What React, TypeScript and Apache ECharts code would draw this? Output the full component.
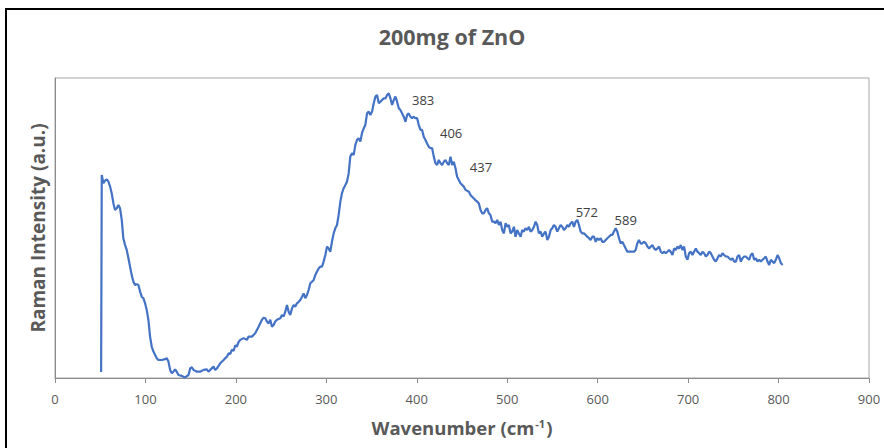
import React, { useEffect, useRef } from "react";
import * as echarts from "echarts";

const wavenumber: number[] = [
  51, 51.7, 53.5, 55.3, 57.2, 59.0, 60.9, 62.7, 64.6, 66.4, 68.3, 70.1, 71.9, 73.8, 75.6, 77.5, 79.3, 81.2, 83.0, 84.8,
  86.7, 88.5, 90.4, 92.2, 94.1, 95.9, 97.7, 99.6, 101.4, 103.3, 105.1, 107.0, 108.8, 110.7, 112.5, 114.3, 118.0, 121.7, 123.6, 125.4,
  127.3, 129.1, 130.9, 132.8, 134.6, 136.5, 140.2, 143.9, 147.6, 149.4, 151.3, 153.1, 156.8, 160.5, 164.2, 167.9, 169.7, 171.6, 175.3, 177.1,
  179.0, 182.7, 186.4, 188.2, 190.1, 191.9, 193.8, 195.6, 197.5, 199.3, 201.1, 203.0, 204.8,
  208.5, 212.2, 214.0, 217.7, 221.4, 225.1, 228.8, 230.6, 232.5, 234.3, 236.2, 238.0, 239.9, 241.7, 243.5, 245.4, 249.1, 250.9, 252.8, 254.6,
  256.5, 258.3, 260.1, 262.0, 263.8, 265.7, 267.5, 269.4, 271.2, 273.1, 274.9, 276.7, 278.6, 280.4, 282.3, 284.1, 286.0, 287.8, 289.6, 291.5,
  293.3, 295.2, 297.0, 298.9, 300.7, 302.6, 304.4, 306.2, 308.1, 309.9, 311.8, 313.6, 315.5, 317.3, 319.1, 321.0, 322.8, 324.7, 326.5, 328.4,
  330.2, 332.1, 333.9, 335.7, 337.6, 339.4, 341.3, 343.1, 345.0, 346.8, 348.7,
  350.6, 352.4, 354.3, 356.1, 358.0, 359.8, 361.6, 363.5, 365.3, 367.2, 369.0, 370.9, 372.7, 374.6, 376.4, 378.2, 380.1, 381.9, 383.8, 385.6,
  387.5, 389.3, 391.1, 393.0, 394.8, 396.7, 398.5, 400.4, 402.2, 404.1, 405.9, 407.7, 409.6, 411.4, 413.3, 415.1, 417.0, 418.8, 420.7, 422.5,
  424.3, 426.2, 428.0, 429.9, 431.7, 433.6, 435.4, 437.3, 439.1, 440.9, 442.8, 444.6, 446.5, 448.3, 452.0, 453.9, 457.6, 459.4, 461.2, 464.9,
  466.8, 468.6, 470.5, 472.3, 474.2, 476.0, 477.8, 479.7, 481.5, 483.4, 485.2, 487.1, 488.9, 490.8, 492.6,
  494.5, 496.3, 498.2, 500.0, 501.8, 503.7, 505.5, 507.4, 509.2, 511.1, 512.9, 514.8, 516.6, 518.4, 520.3, 522.1, 524.0, 525.8, 527.7, 529.5,
  531.4, 533.2, 535.0, 536.9, 538.7, 540.6, 542.4, 544.3, 546.1, 548.0, 549.8, 551.6, 553.5, 555.3, 557.2, 559.0, 560.9, 562.7, 564.6, 566.4,
  568.2, 570.1, 571.9, 573.8, 575.6, 577.5, 579.3, 581.2, 583.0, 584.8, 586.7, 588.5, 590.4, 592.2, 594.1, 595.9, 597.8, 599.6, 601.4, 603.3,
  605.1, 607.0, 608.8, 610.7, 612.5, 614.4, 616.2, 618.0, 619.9, 621.7, 623.6, 625.4, 627.3, 629.1, 631.0, 632.8, 636.5, 640.2, 642.0, 643.9, 645.7,
  647.6, 649.5, 651.3, 653.2, 655.0, 656.9, 658.7, 660.5, 662.4, 664.2, 666.1, 667.9, 669.8, 671.6, 673.4, 675.3, 677.1, 679.0, 680.8, 682.7,
  684.5, 686.4, 688.2, 690.0, 691.9, 693.7, 695.6, 697.4, 699.3, 701.1, 703.0, 704.8, 706.6, 708.5, 710.3, 712.2, 714.0, 715.9, 717.7, 719.6,
  721.4, 723.2, 725.1, 726.9, 728.8, 730.6, 732.5, 734.3, 736.2, 738.0, 739.8, 741.7, 743.5, 745.4, 747.2, 749.1, 750.9, 752.8, 754.6, 756.4,
  758.3, 760.1, 762.0, 763.8, 765.7, 767.5, 769.3, 771.2, 773.0, 774.9, 776.7, 778.6, 780.4, 782.3, 784.1, 785.9, 787.8, 789.6, 791.5, 793.3,
  795.2, 797.0, 798.9, 800.7, 802.6, 804.4,
];

const intensity: number[] = [
  2.0, 67.7, 64.9, 65.8, 66.2, 65.5, 63.8, 61.6, 58.2, 56.0, 56.6, 57.7, 56.6, 52.7, 46.5, 44.3, 42.7, 39.9, 37.1, 34.3,
  32.1, 31.0, 31.3, 31.0, 28.8, 27.1, 26.6, 24.9, 22.7, 19.3, 13.8, 10.4, 8.8, 7.7, 6.6, 6.0, 6.0, 6.3, 6.6, 5.5,
  2.7, 1.6, 2.1, 2.9, 2.1, 1.0, 0.7, 0.2, 1.0, 3.2, 3.6, 2.7, 2.1, 2.1, 2.7, 2.9, 2.1, 2.7, 3.8, 2.7,
  3.2, 4.9, 6.0, 6.6, 7.1, 8.2, 8.0, 9.5, 9.0, 10.9, 10.5, 12.0, 12.7,
  13.3, 12.7, 13.8, 13.8, 14.9, 17.1, 19.4, 20.1, 19.9, 18.8, 18.2, 19.4, 17.1, 17.7, 18.8, 19.4, 19.9, 21.0, 20.5, 22.1,
  24.3, 22.1, 21.0, 23.2, 24.3, 23.8, 24.9, 25.4, 26.0, 27.1, 28.2, 26.6, 27.7, 29.3, 31.6, 32.1, 32.7, 34.3, 35.4, 36.5,
  37.1, 37.1, 38.8, 41.0, 43.8, 43.2, 42.1, 45.4, 48.2, 49.9, 51.0, 54.3, 58.8, 61.6, 63.2, 64.3, 65.4, 68.2, 73.8, 74.9,
  74.3, 77.7, 79.3, 79.9, 78.8, 81.6, 83.2, 84.3, 88.2, 88.8, 87.7,
  88.8, 91.6, 93.8, 94.3, 91.6, 92.1, 92.7, 93.2, 93.2, 94.3, 94.9, 93.2, 91.0, 92.7, 93.8, 92.1, 89.9, 89.3, 88.2, 87.1,
  85.4, 87.7, 88.2, 87.1, 86.6, 87.1, 86.6, 86.6, 84.3, 82.7, 82.7, 80.4, 79.3, 78.2, 77.1, 76.6, 76.6, 73.8, 71.6, 71.0,
  72.7, 71.6, 71.0, 72.1, 72.7, 71.6, 71.0, 73.8, 71.0, 72.1, 69.9, 67.1, 66.0, 64.9, 63.8, 62.7, 62.1, 61.0, 60.4, 59.3,
  58.8, 58.2, 56.0, 54.9, 54.9, 56.0, 56.6, 54.9, 54.3, 52.1, 52.1, 51.6, 52.7, 51.0, 52.1,
  49.3, 48.2, 51.6, 50.4, 51.0, 48.2, 48.8, 50.4, 47.1, 49.3, 48.2, 47.1, 49.3, 48.8, 49.9, 49.3, 50.4, 48.8, 49.3, 50.4,
  52.1, 51.0, 48.2, 48.8, 47.1, 48.2, 48.8, 46.0, 47.1, 49.3, 49.9, 51.0, 50.4, 48.8, 49.9, 51.0, 50.4, 49.3, 49.9, 51.0,
  50.4, 51.6, 52.1, 50.4, 52.1, 52.7, 51.0, 48.8, 48.2, 48.2, 47.7, 47.1, 46.6, 46.0, 47.1, 47.1, 45.4, 46.6, 46.0, 46.6,
  45.4, 45.4, 46.0, 46.6, 47.1, 47.7, 47.7, 48.8, 49.9, 48.8, 46.6, 44.9, 45.4, 44.3, 43.2, 42.1, 42.1, 42.1, 42.7, 44.9, 46.0,
  44.8, 44.9, 45.4, 44.9, 43.8, 43.2, 43.8, 44.3, 43.2, 42.7, 43.2, 43.8, 42.1, 41.6, 42.1, 41.6, 42.1, 42.7, 42.1, 41.0,
  43.2, 42.7, 43.8, 43.2, 44.3, 42.7, 43.8, 40.5, 39.4, 41.6, 42.1, 41.0, 42.1, 43.2, 42.1, 41.6, 41.0, 42.1, 41.6, 40.5,
  41.0, 42.1, 41.6, 40.5, 39.4, 38.8, 39.9, 41.0, 40.5, 41.6, 41.0, 40.5, 40.5, 39.9, 39.4, 39.9, 38.8, 38.8, 40.5, 41.0,
  38.8, 39.9, 40.5, 40.5, 39.9, 39.4, 41.0, 41.6, 39.4, 39.9, 38.8, 39.4, 38.8, 39.4, 39.9, 40.5, 38.8, 37.7, 39.4, 38.8,
  38.3, 39.4, 41.0, 39.9, 38.3, 37.7,
];

// Peak annotation texts and where they sit (data coordinates)
const peakLabels: string[] = ["383", "406", "437", "572", "589"];
const peakLabelX: number[] = [407, 438, 471, 588, 631];
const peakLabelY: number[] = [92.7, 81.7, 70.3, 55.3, 52.7];

const xTicks = { min: 0, max: 900, interval: 100 };

const FONT = "'Open Sans', 'Noto Sans', sans-serif";
const GRAY = "#595959";

export default function App() {
  const ref = useRef<HTMLDivElement>(null);
  useEffect(() => {
    if (!ref.current) return;
    const chart = echarts.init(ref.current, null, { renderer: "svg" });
    const data = wavenumber.map((w, i) => [w, intensity[i]]);
    chart.setOption({
      animation: false,
      backgroundColor: "#ffffff",
      grid: {
        left: 55,
        right: 15,
        top: 78,
        bottom: 70,
        show: true,
        borderColor: "#a6a6a6",
        borderWidth: 1,
      },
      xAxis: {
        type: "value",
        min: xTicks.min,
        max: xTicks.max,
        interval: xTicks.interval,
        axisLine: { show: true, lineStyle: { color: "#8c8c8c", width: 1 } },
        axisTick: { show: true, length: 5, lineStyle: { color: "#8c8c8c" } },
        axisLabel: { color: GRAY, fontSize: 13, fontFamily: FONT, margin: 14 },
        splitLine: { show: false },
        name: "{n|Wavenumber (cm}{s|-1}{n|)}",
        nameLocation: "middle",
        nameGap: 40,
        nameTextStyle: {
          rich: {
            n: { fontSize: 18.5, fontWeight: "bold", color: GRAY, fontFamily: FONT },
            s: { fontSize: 11, fontWeight: "bold", color: GRAY, fontFamily: FONT, verticalAlign: "top", padding: [0, 1, 8, 1] },
          },
        },
      },
      yAxis: {
        type: "value",
        min: 0,
        max: 100,
        axisLine: { show: true, lineStyle: { color: "#8c8c8c", width: 1 } },
        axisTick: { show: false },
        axisLabel: { show: false },
        splitLine: { show: false },
        name: "Raman Intensity (a.u.)",
        nameLocation: "middle",
        nameGap: 8,
        nameRotate: 90,
        nameTextStyle: { fontSize: 19, fontWeight: "bold", color: GRAY, fontFamily: FONT },
      },
      graphic: [
        {
          type: "rect",
          shape: { x: 6, y: 9, width: 900, height: 460 },
          style: { fill: "none", stroke: "#000000", lineWidth: 2 },
          silent: true,
        },
        {
          type: "text",
          x: 452,
          y: 36,
          style: {
            text: "200mg of ZnO",
            fontSize: 21.5,
            fontWeight: "bold",
            fill: GRAY,
            fontFamily: FONT,
            textAlign: "center",
            textVerticalAlign: "middle",
          },
        },
      ],
      series: [
        {
          type: "line",
          data,
          showSymbol: false,
          symbol: "none",
          lineStyle: { color: "#4472c4", width: 2.2 },
          markPoint: {
            symbol: "circle",
            symbolSize: 0,
            label: {
              show: true,
              position: "inside",
              color: "#404040",
              fontSize: 13,
              fontFamily: FONT,
              formatter: (p: any) => p.name,
            },
            data: peakLabels.map((t, i) => ({ name: t, coord: [peakLabelX[i], peakLabelY[i]], value: t })),
          },
        },
      ],
    });
    return () => chart.dispose();
  }, []);
  return <div ref={ref} style={{ position: "fixed", left: 0, top: 0, width: 884, height: 448 }} />;
}
